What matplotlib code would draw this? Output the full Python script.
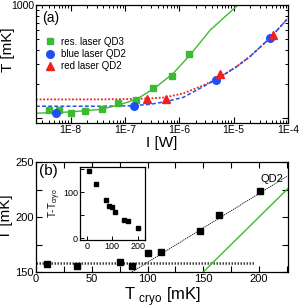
import numpy as np
import matplotlib
matplotlib.use("Agg")
import matplotlib.pyplot as plt
from matplotlib.ticker import FixedLocator, LogLocator, MultipleLocator, NullFormatter

plt.rcParams.update({
    "font.family": ["Liberation Sans", "DejaVu Sans"],
    "xtick.direction": "in",
    "ytick.direction": "in",
    "xtick.top": True,
    "ytick.right": True,
    "axes.linewidth": 0.9,
})

# ------------------ DATA (a) ------------------
res_I = [4.05e-9, 6.2e-9, 1.0e-8, 1.83e-8, 3.7e-8, 7.5e-8, 1.57e-7, 3.3e-7, 7.2e-7, 1.51e-6]
res_T = [118, 118, 111, 117, 120, 136, 145, 184, 236, 370]
blue_I = [5.4e-9, 1.46e-7, 4.83e-6, 4.74e-5]
blue_T = [112, 128, 218, 508]
red_I = [2.5e-7, 5.6e-7, 5.7e-6, 5.3e-5]
red_T = [147, 147, 246, 544]

# fit curves
res_fit_I = [2.3e-9, 1.0e-8, 3.5e-8, 7.7e-8, 1.65e-7, 3.4e-7, 7.5e-7, 1.6e-6, 3.7e-6, 1.2e-5]
res_fit_T = [111, 114, 120, 131, 148, 183, 246, 366, 601, 1000]
blue_fit_I = [2.3e-9, 3.5e-8, 1.2e-7, 2.9e-7, 5.4e-7, 1.17e-6, 2.4e-6, 4.83e-6, 1.12e-5, 1.98e-5, 4.6e-5, 1.0e-4]
blue_fit_T = [128, 128, 129, 133, 140, 153, 184, 221, 285, 350, 508, 764]
red_fit_I = [2.3e-9, 3.5e-8, 1.2e-7, 2.9e-7, 5.4e-7, 1.17e-6, 2.4e-6, 4.83e-6, 1.12e-5, 1.98e-5, 4.6e-5, 1.0e-4]
red_fit_T = [147, 147, 148, 150, 153, 166, 190, 221, 285, 350, 508, 764]

# ------------------ DATA (b) ------------------
T_cryo = [10, 37, 75, 86, 100, 112, 147, 164, 201]
T_qd2 = [157, 155.5, 159, 155.5, 167, 168.5, 187, 202, 224]
base_x = [0, 196]
base_T = [158, 158]
lin_x = [86, 225]
lin_T = [150, 237]
ident_x = [150, 226]
ident_T = [150, 226]

GREEN = '#3dbb30'
BLUE = '#2050f0'
RED = '#f02020'

fig = plt.figure(figsize=(3.0, 3.07), dpi=100)

# ------------------ panel (a) ------------------
ax1 = fig.add_axes([0.12, 0.5993, 0.84, 0.3844])
ax1.set_xscale('log')
ax1.set_yscale('log')
ax1.plot(red_fit_I, red_fit_T, color=RED, ls=(0, (1, 1)), lw=1.3, zorder=2)
ax1.plot(blue_fit_I, blue_fit_T, color=BLUE, ls=(0, (2.5, 1.5)), lw=1.1, zorder=2)
ax1.plot(res_fit_I, res_fit_T, color=GREEN, lw=1.0, zorder=2)
ax1.plot(res_I, res_T, 's', color=GREEN, ms=4.8, label='res. laser QD3', zorder=3)
ax1.plot(blue_I, blue_T, 'o', color=BLUE, ms=5.5, label='blue laser QD2', zorder=3)
ax1.plot(red_I, red_T, '^', color=RED, ms=6.0, label='red laser QD2', zorder=3)
ax1.set_xlim(2.3e-9, 1e-4)
ax1.set_ylim(91, 1000)
ax1.xaxis.set_major_locator(FixedLocator([1e-8, 1e-7, 1e-6, 1e-5, 1e-4]))
ax1.set_xticklabels(['1E-8', '1E-7', '1E-6', '1E-5', '1E-4'], fontsize=7.5)
ax1.xaxis.set_minor_locator(LogLocator(base=10, subs=np.arange(2, 10), numticks=20))
ax1.xaxis.set_minor_formatter(NullFormatter())
ax1.yaxis.set_major_locator(FixedLocator([100, 1000]))
ax1.set_yticklabels(['', '1000'], fontsize=7.5)
ax1.yaxis.set_minor_locator(LogLocator(base=10, subs=np.arange(2, 10), numticks=20))
ax1.yaxis.set_minor_formatter(NullFormatter())
ax1.tick_params(which='major', length=4, width=0.8, pad=1.5)
ax1.tick_params(which='minor', length=2.5, width=0.7)
ax1.set_xlabel('I [W]', fontsize=11, labelpad=1)
ax1.set_ylabel('T [mK]', fontsize=11)
ax1.yaxis.set_label_coords(-0.085, 0.62)
ax1.text(0.025, 0.86, '(a)', transform=ax1.transAxes, fontsize=10)
ax1.legend(loc='upper left', bbox_to_anchor=(0.0, 0.79), frameon=False, fontsize=7,
           handletextpad=0.4, labelspacing=0.25, borderaxespad=0.3, handlelength=1.5)

# ------------------ panel (b) ------------------
ax2 = fig.add_axes([0.12, 0.114, 0.84, 0.358])
ax2.plot(base_x, base_T, color='#404040', ls=(0, (0.6, 0.6)), lw=1.8, zorder=2)
ax2.plot(lin_x, lin_T, color='black', ls=(0, (1.5, 1.0)), lw=0.6, zorder=2)
ax2.plot(ident_x, ident_T, color=GREEN, lw=1.0, zorder=2)
ax2.plot(T_cryo, T_qd2, 's', color='black', ms=5.0, zorder=3)
ax2.set_xlim(0, 226)
ax2.set_ylim(150, 250)
ax2.xaxis.set_major_locator(MultipleLocator(50))
ax2.xaxis.set_minor_locator(MultipleLocator(25))
ax2.yaxis.set_major_locator(MultipleLocator(50))
ax2.yaxis.set_minor_locator(MultipleLocator(25))
ax2.tick_params(which='major', length=4, width=0.8, labelsize=8, pad=1.5)
ax2.tick_params(which='minor', length=4, width=0.8)
ax2.set_xlabel(r'T $_{\mathregular{cryo}}$ [mK]', fontsize=12, labelpad=1)
ax2.set_ylabel('T [mK]', fontsize=11, labelpad=2)
ax2.text(0.01, 0.88, '(b)', transform=ax2.transAxes, fontsize=11)
ax2.text(0.89, 0.82, 'QD2', transform=ax2.transAxes, fontsize=8)

# ------------------ inset ------------------
ax3 = fig.add_axes([0.2667, 0.2182, 0.2167, 0.2378])
ax3.plot(T_cryo, np.array(T_qd2) - np.array(T_cryo), 's', color='black', ms=3.3)
ax3.set_xlim(-26, 229)
ax3.set_ylim(-4, 155)
ax3.xaxis.set_major_locator(MultipleLocator(100))
ax3.yaxis.set_major_locator(MultipleLocator(100))
ax3.yaxis.set_minor_locator(MultipleLocator(50))
ax3.tick_params(which='both', top=False, right=False, labelsize=6.5, pad=1.5, length=3, width=0.7)
ax3.set_ylabel(r'T-T$_{\mathregular{cryo}}$', fontsize=7, labelpad=0)

fig.savefig('out.png', dpi=100)
